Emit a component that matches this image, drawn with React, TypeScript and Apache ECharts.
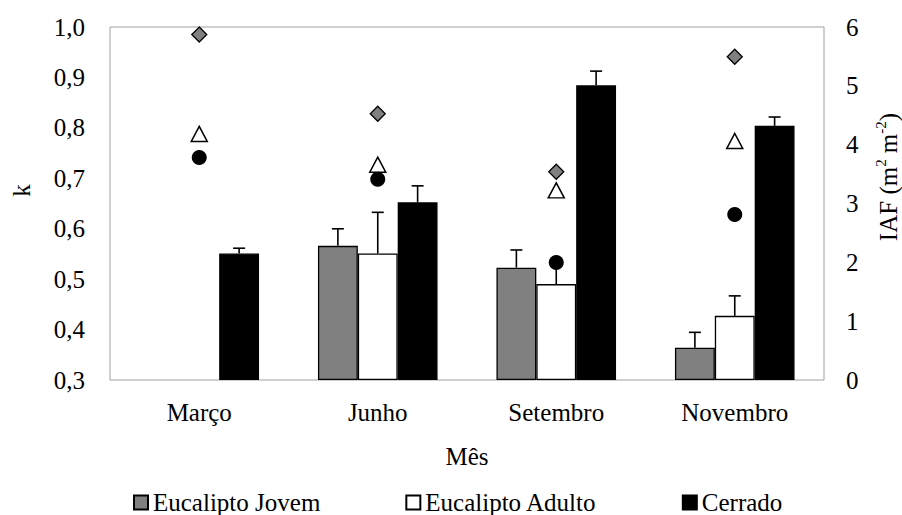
import React, { useEffect, useRef } from "react";
import * as echarts from "echarts";

// ---------- data ----------
const categories = ["Março", "Junho", "Setembro", "Novembro"];
const barNames = ["Eucalipto Jovem", "Eucalipto Adulto", "Cerrado"];
const markerNames = ["k Eucalipto Jovem", "k Eucalipto Adulto", "k Cerrado"];

// IAF (m2 m-2) — bars (right axis)
const iafJovem: (number | null)[] = [null, 2.28, 1.91, 0.55];
const iafAdulto: (number | null)[] = [null, 2.15, 1.63, 1.09];
const iafCerrado: (number | null)[] = [2.15, 3.02, 5.01, 4.32];

// upper error bars (IAF)
const errJovem: (number | null)[] = [null, 0.29, 0.3, 0.26];
const errAdulto: (number | null)[] = [null, 0.7, 0.32, 0.34];
const errCerrado: (number | null)[] = [0.09, 0.28, 0.24, 0.15];

// k — markers (left axis)
const kJovem = [0.985, 0.828, 0.713, 0.941];
const kAdulto = [0.788, 0.727, 0.676, 0.774];
const kCerrado = [0.741, 0.698, 0.533, 0.628];

// axes
const kMin = 0.3;
const kMax = 1.0;
const kStep = 0.1;
const iafMin = 0;
const iafMax = 6;
const iafStep = 1;

const FONT = "Liberation Serif";
const GROUP_SHARE = 0.67;

const T = { fontFamily: FONT, fontSize: 25, color: "#000" };
const PAD = [0.01, 0, 0, 0];
const RICH = {
  a: { ...T },
  n: { ...T, lineHeight: 28, verticalAlign: "bottom" },
  s: { fontFamily: FONT, fontSize: 15, color: "#000", lineHeight: 15, verticalAlign: "top" },
};
const wrap = (s: string) => `{a|${s}}`;

function errorSeries(idx: number, values: (number | null)[], errs: (number | null)[]) {
  const data: number[][] = [];
  values.forEach((v, i) => {
    const e = errs[i];
    if (v != null && e != null) data.push([i, v, e]);
  });
  return {
    type: "custom",
    name: "err" + idx,
    xAxisIndex: 0,
    yAxisIndex: 1,
    z: 3,
    silent: true,
    encode: { x: 0, y: 1 },
    data,
    renderItem: (params: any, api: any) => {
      const x = api.value(0);
      const v = api.value(1);
      const e = api.value(2);
      const base = api.coord([x, v]);
      const top = api.coord([x, v + e]);
      const band = api.size([1, 0])[0];
      const barW = (band * GROUP_SHARE) / 3;
      const cx = base[0] + (idx - 1) * barW;
      const st = { stroke: "#000", lineWidth: 1.6 };
      return {
        type: "group",
        children: [
          { type: "line", shape: { x1: cx, y1: base[1], x2: cx, y2: top[1] }, style: st },
          { type: "line", shape: { x1: cx - 6, y1: top[1], x2: cx + 6, y2: top[1] }, style: st },
        ],
      };
    },
  };
}

export default function App() {
  const ref = useRef<HTMLDivElement>(null);
  useEffect(() => {
    if (!ref.current) return;
    const chart = echarts.init(ref.current, undefined, { renderer: "svg" });
    const barColors = ["#808080", "#ffffff", "#000000"];
    const barValues = [iafJovem, iafAdulto, iafCerrado];
    chart.setOption({
      animation: false,
      backgroundColor: "#fff",
      textStyle: { fontFamily: FONT },
      grid: {
        left: 110,
        right: 78,
        top: 27,
        bottom: 135,
        show: true,
        borderColor: "#a0a0a0",
        borderWidth: 1,
        containLabel: false,
        outerBoundsMode: "none",
      },
      legend: {
        data: barNames,
        icon: "rect",
        itemWidth: 14,
        itemHeight: 14,
        itemGap: 85,
        left: 133,
        top: 490,
        padding: 0,
        formatter: (name: string) => wrap(name),
        textStyle: { ...T, rich: RICH, padding: PAD },
      },
      xAxis: {
        type: "category",
        data: categories,
        axisLine: { show: false },
        axisTick: { show: false },
        splitLine: { show: false },
        axisLabel: {
          ...T,
          margin: 20,
          interval: 0,
          padding: PAD,
          formatter: (v: string) => wrap(v),
          rich: RICH,
        },
        name: wrap("Mês"),
        nameLocation: "middle",
        nameGap: 64,
        nameTextStyle: { ...T, rich: RICH, padding: PAD },
      },
      yAxis: [
        {
          type: "value",
          min: kMin,
          max: kMax,
          interval: kStep,
          position: "left",
          axisLine: { show: false },
          axisTick: { show: false },
          splitLine: { show: false },
          axisLabel: {
            ...T,
            margin: 25,
            padding: PAD,
            rich: RICH,
            formatter: (v: number) => wrap(v.toFixed(1).replace(".", ",")),
          },
          name: wrap("k"),
          nameLocation: "middle",
          nameGap: 76,
          nameTextStyle: { ...T, rich: RICH, padding: [0, 0, 0, 26] },
        },
        {
          type: "value",
          min: iafMin,
          max: iafMax,
          interval: iafStep,
          position: "right",
          axisLine: { show: false },
          axisTick: { show: false },
          splitLine: { show: false },
          axisLabel: {
            ...T,
            margin: 22,
            padding: PAD,
            rich: RICH,
            formatter: (v: number) => wrap(String(v)),
          },
          name: "{n|IAF (m}{s|2}{n| m}{s|-2}{n|)}",
          nameLocation: "middle",
          nameGap: 49,
          nameTextStyle: { ...T, padding: [0, 0, 0, 53], rich: RICH },
        },
      ],
      series: [
        ...barNames.map((name, i) => ({
          type: "bar",
          name,
          xAxisIndex: 0,
          yAxisIndex: 1,
          data: barValues[i],
          barGap: "0%",
          barCategoryGap: "33%",
          itemStyle: { color: barColors[i], borderColor: "#000", borderWidth: 1.3 },
          z: 2,
        })),
        errorSeries(0, iafJovem, errJovem),
        errorSeries(1, iafAdulto, errAdulto),
        errorSeries(2, iafCerrado, errCerrado),
        {
          type: "scatter",
          name: markerNames[0],
          yAxisIndex: 0,
          data: kJovem,
          symbol: "diamond",
          symbolSize: 15,
          itemStyle: { color: "#808080", borderColor: "#000", borderWidth: 1.3, opacity: 1 },
          z: 5,
        },
        {
          type: "scatter",
          name: markerNames[1],
          yAxisIndex: 0,
          data: kAdulto,
          symbol: "triangle",
          symbolSize: [16, 15],
          itemStyle: { color: "#fff", borderColor: "#000", borderWidth: 1.5, opacity: 1 },
          z: 5,
        },
        {
          type: "scatter",
          name: markerNames[2],
          yAxisIndex: 0,
          data: kCerrado,
          symbol: "circle",
          symbolSize: 15,
          itemStyle: { color: "#000", opacity: 1 },
          z: 5,
        },
      ],
    });
    return () => chart.dispose();
  }, []);
  return (
    <div
      ref={ref}
      style={{ position: "fixed", left: 0, top: 0, width: 902, height: 515, background: "#fff" }}
    />
  );
}
